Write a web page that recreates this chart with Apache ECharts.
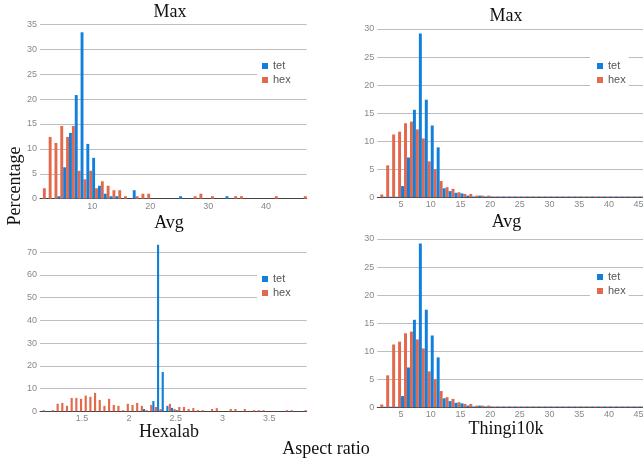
<!DOCTYPE html>
<html>
<head>
<meta charset="utf-8">
<script src="https://cdn.jsdelivr.net/npm/echarts@6/dist/echarts.min.js"></script>
<style>
html, body { margin: 0; padding: 0; background: #fff; }
#chart { width: 643px; height: 463px; }
</style>
</head>
<body>
<div id="chart"></div>
<script>
// Hexalab, max aspect ratio (bins of width 1)
const hexalabMaxBins = [1, 2, 3, 4, 5, 6, 7, 8, 9, 10, 11, 12, 13, 14, 15, 16, 17, 18, 19, 20,
  21, 22, 23, 24, 25, 26, 27, 28, 29, 30, 31, 32, 33, 34, 35, 36, 37, 38, 39, 40,
  41, 42, 43, 44, 45, 46, 47];
const hexalabMaxHex = [0, 2.1, 12.4, 11.2, 14.6, 12.4, 14.6, 5.6, 3.9, 5.6, 2.1, 3.5, 2.6, 1.7, 1.7, 0.5, 0, 0.5, 1.0, 1.0,
  0, 0, 0, 0, 0, 0, 0, 0.5, 1.0, 0, 0.5, 0, 0, 0, 0.5, 0.5, 0, 0, 0, 0,
  0, 0.5, 0, 0, 0, 0, 0.5];
const hexalabMaxTet = [0, 0, 0, 0.5, 6.3, 13.2, 20.8, 33.4, 11.0, 8.2, 2.6, 1.0, 0.5, 0.5, 0, 0, 1.7, 0, 0, 0,
  0, 0, 0, 0, 0.5, 0, 0, 0, 0, 0, 0, 0, 0.5, 0, 0, 0, 0, 0, 0, 0,
  0, 0, 0, 0, 0, 0, 0];

// Hexalab, average aspect ratio (bins of width 0.05)
const hexalabAvgBins = [1.05, 1.10, 1.15, 1.20, 1.25, 1.30, 1.35, 1.40, 1.45, 1.50,
  1.55, 1.60, 1.65, 1.70, 1.75, 1.80, 1.85, 1.90, 1.95, 2.00,
  2.05, 2.10, 2.15, 2.20, 2.25, 2.30, 2.35, 2.40, 2.45, 2.50,
  2.55, 2.60, 2.65, 2.70, 2.75, 2.80, 2.85, 2.90, 2.95, 3.00,
  3.05, 3.10, 3.15, 3.20, 3.25, 3.30, 3.35, 3.40, 3.45, 3.50,
  3.55, 3.60, 3.65, 3.70, 3.75, 3.80, 3.85, 3.90];
const hexalabAvgHex = [0, 0.5, 0, 0.5, 3.3, 3.7, 2.4, 5.9, 5.9, 5.5,
  6.9, 6.4, 8.1, 5.0, 2.4, 5.5, 2.8, 2.4, 0.5, 3.3,
  2.8, 3.7, 2.4, 0.5, 2.8, 1.9, 1.0, 0, 3.3, 1.0,
  1.9, 1.9, 1.0, 1.4, 0.5, 0.5, 0, 1.0, 1.4, 0,
  0, 1.0, 1.0, 0, 1.0, 0, 0.5, 0.5, 0.5, 0,
  0, 0, 0, 0.5, 0.5, 0, 0, 0.5];
const hexalabAvgTet = [0, 0, 0, 0, 0, 0, 0, 0, 0, 0,
  0, 0, 0, 0, 0, 0, 0, 0, 0, 0,
  0, 0, 1.0, 0, 4.5, 73.3, 17.3, 2.4, 1.5, 0.5,
  0, 0, 0, 0, 0, 0, 0, 0, 0, 0,
  0, 0, 0, 0, 0, 0, 0, 0, 0, 0,
  0, 0, 0, 0, 0, 0, 0, 0];

// Thingi10k (max and avg panels show the same histogram)
const thingiBins = [1, 2, 3, 4, 5, 6, 7, 8, 9, 10, 11, 12, 13, 14, 15, 16, 17, 18, 19, 20,
  21, 22, 23, 24, 25, 26, 27, 28, 29, 30, 31, 32, 33, 34, 35, 36, 37, 38, 39, 40,
  41, 42, 43, 44, 45, 46, 47];
const thingiHex = [0, 0.5, 5.7, 11.2, 11.7, 13.2, 13.5, 12.1, 10.5, 6.4, 5.0, 2.9, 1.8, 1.5, 0.9, 0.6, 0.6, 0.3, 0.3, 0.3,
  0.15, 0.15, 0.15, 0.15, 0.15, 0.15, 0.15, 0.15, 0.15, 0.15, 0.15, 0.15, 0.15, 0.15, 0.15, 0.15, 0.15, 0.15, 0.15, 0.15,
  0.15, 0.15, 0.15, 0.15, 0.15, 0.15, 0.15];
const thingiTet = [0, 0.1, 0.1, 0.1, 2.0, 7.1, 15.6, 29.2, 17.4, 12.8, 8.9, 1.6, 1.1, 0.8, 0.7, 0.3, 0.15, 0.3, 0.15, 0.15,
  0.15, 0.15, 0.15, 0.15, 0.15, 0.15, 0.15, 0.15, 0.15, 0.15, 0.15, 0.15, 0.15, 0.15, 0.15, 0.15, 0.15, 0.15, 0.15, 0.15,
  0.15, 0.15, 0.15, 0.15, 0.15, 0.15, 0.15];

const tetColor = '#1080dc';
const hexColor = '#e4694c';
const gridColor = '#bdbdbd';
const sans = 'Liberation Sans';
const serif = 'Liberation Serif';

const pairs = (bins, vals) => bins.map((b, i) => [b, vals[i]]);

const xAxisBase = {
  type: 'value',
  interval: 1,
  axisTick: { show: false },
  splitLine: { show: false },
  axisLine: { show: true, onZero: false, lineStyle: { color: '#444', width: 1 } },
  axisLabel: { fontSize: 9, color: '#888', fontFamily: sans, margin: 3 }
};
const yAxisBase = {
  type: 'value',
  min: 0,
  axisLine: { show: false },
  axisTick: { show: false },
  splitLine: { lineStyle: { color: gridColor, width: 1 } },
  axisLabel: { fontSize: 9, color: '#888', fontFamily: sans, margin: 3 }
};

const barSeries = (name, color, idx, data, catGap) => ({
  name: name,
  type: 'bar',
  xAxisIndex: idx,
  yAxisIndex: idx,
  data: data,
  barGap: '0%',
  barCategoryGap: catGap,
  clip: true,
  itemStyle: { color: color },
  emphasis: { disabled: true }
});

const legendAt = (left, top, padding) => ({
  data: ['tet', 'hex'],
  orient: 'vertical',
  left: left,
  top: top,
  icon: 'rect',
  itemWidth: 6,
  itemHeight: 6,
  itemGap: 2,
  padding: padding,
  backgroundColor: '#fff',
  textStyle: { fontSize: 11, color: '#555', fontFamily: sans, lineHeight: 12 },
  selectedMode: false
});

const label = (text, x, y, extra) => Object.assign({
  type: 'text',
  x: x,
  y: y,
  style: {
    text: text,
    font: '18px "' + serif + '"',
    fill: '#111',
    textAlign: 'center',
    textVerticalAlign: 'middle'
  }
}, extra || {});

// right-hand panels run off the edge of the picture (45 is cut)
const thingiMax = 45.74;

const chart = echarts.init(document.getElementById('chart'));
chart.setOption({
  animation: false,
  grid: [
    { left: 40, top: 24.3, width: 266.7, height: 174.4, outerBoundsMode: 'none' },
    { left: 377.3, top: 29, right: 0, height: 168.3, outerBoundsMode: 'none' },
    { left: 40, top: 240.9, width: 266.7, height: 170.4, outerBoundsMode: 'none' },
    { left: 377.3, top: 239, right: 0, height: 168.3, outerBoundsMode: 'none' }
  ],
  xAxis: [
    Object.assign({}, xAxisBase, { gridIndex: 0, min: 1, max: 47,
      axisLabel: Object.assign({}, xAxisBase.axisLabel, { formatter: v => (v % 10 === 0 ? String(v) : '') }) }),
    Object.assign({}, xAxisBase, { gridIndex: 1, min: 1, max: thingiMax,
      axisLabel: Object.assign({}, xAxisBase.axisLabel, { formatter: v => (v % 5 === 0 ? String(v) : '') }) }),
    Object.assign({}, xAxisBase, { gridIndex: 2, min: 1.05, max: 3.9, interval: 0.05,
      axisLabel: Object.assign({}, xAxisBase.axisLabel, {
        formatter: v => { const r = Math.round(v * 100); return r % 50 === 0 ? String(r / 100) : ''; }
      }) }),
    Object.assign({}, xAxisBase, { gridIndex: 3, min: 1, max: thingiMax,
      axisLabel: Object.assign({}, xAxisBase.axisLabel, { formatter: v => (v % 5 === 0 ? String(v) : '') }) })
  ],
  yAxis: [
    Object.assign({}, yAxisBase, { gridIndex: 0, max: 35, interval: 5 }),
    Object.assign({}, yAxisBase, { gridIndex: 1, max: 30, interval: 5 }),
    Object.assign({}, yAxisBase, { gridIndex: 2, max: 75, interval: 10,
      axisLabel: Object.assign({}, yAxisBase.axisLabel, { showMaxLabel: false }),
      splitLine: { showMaxLine: false, lineStyle: { color: gridColor, width: 1 } } }),
    Object.assign({}, yAxisBase, { gridIndex: 3, max: 30, interval: 5 })
  ],
  legend: [
    legendAt(257, 57, [3, 16, 3, 5]),
    legendAt(590, 57, [3, 3, 3, 7]),
    legendAt(257, 270, [3, 16, 3, 5]),
    legendAt(590, 268, [3, 3, 3, 7])
  ],
  series: [
    barSeries('hex', hexColor, 0, pairs(hexalabMaxBins, hexalabMaxHex), '0%'),
    barSeries('tet', tetColor, 0, pairs(hexalabMaxBins, hexalabMaxTet), '0%'),
    barSeries('hex', hexColor, 1, pairs(thingiBins, thingiHex), '0%'),
    barSeries('tet', tetColor, 1, pairs(thingiBins, thingiTet), '0%'),
    barSeries('hex', hexColor, 2, pairs(hexalabAvgBins, hexalabAvgHex), '8%'),
    barSeries('tet', tetColor, 2, pairs(hexalabAvgBins, hexalabAvgTet), '8%'),
    barSeries('hex', hexColor, 3, pairs(thingiBins, thingiHex), '0%'),
    barSeries('tet', tetColor, 3, pairs(thingiBins, thingiTet), '0%')
  ],
  graphic: [
    label('Max', 170, 12),
    label('Max', 506, 16.3),
    label('Avg', 169, 223.3),
    label('Avg', 506.5, 222.7),
    label('Hexalab', 169, 432.5),
    label('Thingi10k', 506, 429.3),
    label('Aspect ratio', 326, 449),
    label('Percentage', 15.5, 186, { rotation: Math.PI / 2 })
  ]
});
</script>
</body>
</html>
